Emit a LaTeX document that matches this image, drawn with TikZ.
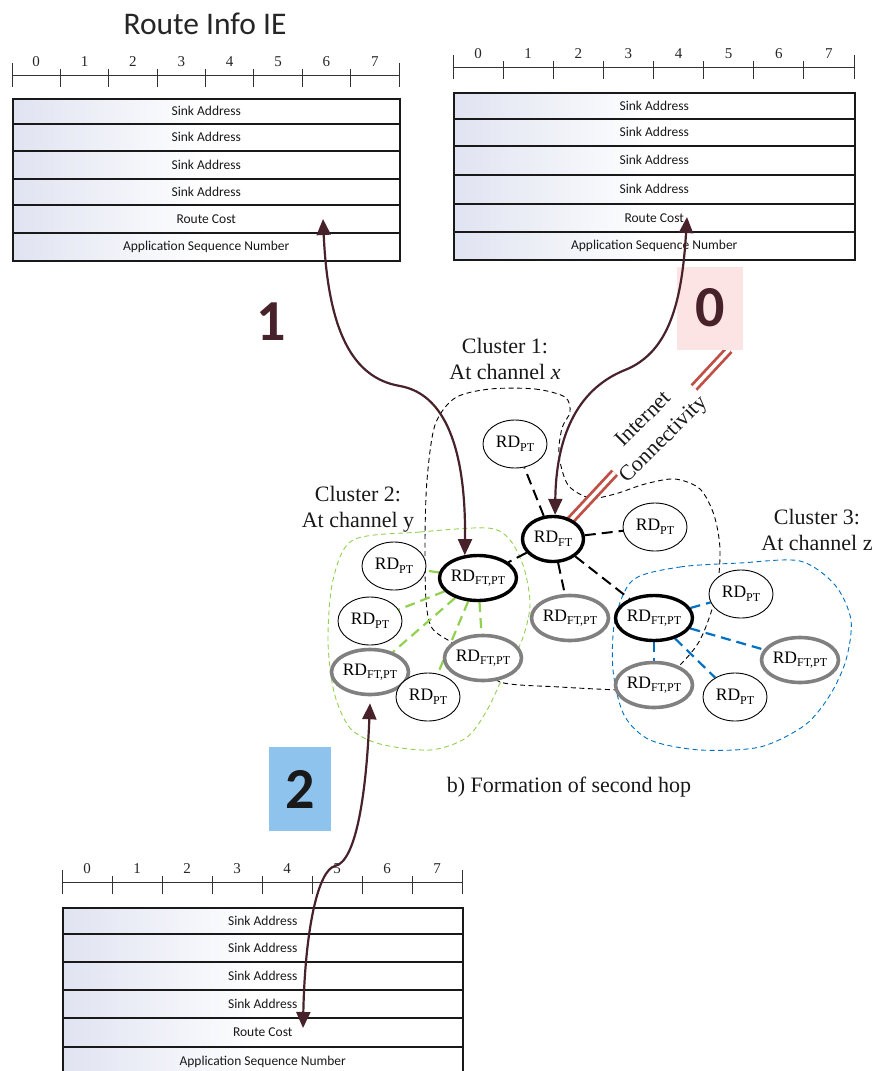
\documentclass[tikz,border=0pt]{standalone}
\usepackage{fontspec}
\setmainfont{Liberation Serif}
\newfontfamily\tablefont{Carlito}
\usetikzlibrary{arrows.meta,calc,shapes.geometric}

\definecolor{linkmaroon}{RGB}{72,34,42}
\definecolor{netred}{RGB}{192,80,70}
\definecolor{clgreen}{RGB}{146,208,80}
\definecolor{clblue}{RGB}{0,112,192}
\definecolor{ftgray}{RGB}{128,128,128}
\definecolor{rowtint}{RGB}{224,227,241}
\definecolor{pinkbox}{RGB}{252,228,228}
\definecolor{skybox}{RGB}{142,195,238}

\pgfdeclarelayer{back}
\pgfsetlayers{back,main}

% device label with a subscripted role
\newcommand{\rd}[1]{RD\raisebox{-0.45ex}{\fontsize{12}{12}\selectfont #1}}

\tikzset{
  fieldrow/.style={draw=black!90, line width=1.5pt, left color=rowtint, right color=white, middle color=white,
    inner sep=0pt, font=\tablefont\fontsize{13.5}{13.5}\selectfont, text=black!90},
  rulerline/.style={draw=black!80, line width=0.9pt},
  bitlabel/.style={font=\fontsize{15}{15}\selectfont, text=black!85, inner sep=0pt},
  ptnode/.style={ellipse, draw=black, line width=0.9pt, fill=white, minimum width=64pt, minimum height=48pt,
    inner sep=0pt, font=\fontsize{17.5}{17.5}\selectfont},
  headnode/.style={ptnode, line width=3.4pt, minimum width=61pt, minimum height=45pt},
  graynode/.style={ptnode, draw=ftgray, line width=3.6pt, minimum width=61pt, minimum height=45pt},
  blacklink/.style={draw=black, line width=2pt, dash pattern=on 11pt off 6pt},
  greenlink/.style={draw=clgreen, line width=2.2pt, dash pattern=on 10pt off 6pt},
  bluelink/.style={draw=clblue, line width=2.2pt, dash pattern=on 10pt off 6pt},
  clusterline/.style={line width=0.9pt, dash pattern=on 5pt off 3.5pt},
  linkarrow/.style={draw=linkmaroon, line width=2.2pt,
    {Triangle[length=16pt,width=14pt]}-{Triangle[length=16pt,width=14pt]}},
  netlink/.style={draw=netred, line width=2.8pt, double=white, double distance=3.6pt},
  numbox/.style={minimum width=66pt, minimum height=83pt, inner sep=0pt,
    font=\tablefont\bfseries\fontsize{58}{58}\selectfont},
  caption/.style={align=center, font=\fontsize{22}{26}\selectfont, text=black!90},
}

% bit ruler: #1 left x, #2 cell width, #3 line y, #4 name prefix
\newcommand{\bitruler}[4]{%
  \draw[rulerline] (#1,#3) -- ({#1+8*#2},#3);
  \foreach \k in {0,8} \draw[rulerline] ({#1+\k*#2},{#3-12}) -- ({#1+\k*#2},{#3+12});
  \foreach \k in {1,...,7} \draw[rulerline] ({#1+\k*#2},{#3-6}) -- ({#1+\k*#2},{#3+12});
  \foreach \k in {0,...,7} \node[bitlabel] (#4d\k) at ({#1+(\k+0.5)*#2},{#3-13.5}) {\k};
}

% stacked fields: #1 name prefix, #2 left x, #3 right x, #4 top/bottom/text list
\newcommand{\fieldstack}[4]{%
  \foreach \rtop/\rbot/\rtext [count=\ri] in {#4}{%
    \node[fieldrow, anchor=north west, minimum width=#3-#2, minimum height=\rbot-\rtop]
      (#1r\ri) at (#2,\rtop) {\rtext};
  }%
}

\begin{document}
\begin{tikzpicture}[x=1pt,y=-1pt]
\useasboundingbox (0,0) rectangle (875,1071);

% ---------- frame formats ----------
\node[font=\tablefont\fontsize{31.5}{31.5}\selectfont, text=black!85] (title) at (205,24) {Route Info IE};

\bitruler{12}{48.375}{75}{a}
\fieldstack{a}{12}{399}{98/123/Sink Address, 123/150/Sink Address, 150/178/Sink Address,
  178/204/Sink Address, 204/232/Route Cost, 232/260/Application Sequence Number}

\bitruler{453}{50.125}{67}{b}
\fieldstack{b}{453}{854}{92/118/Sink Address, 118/145/Sink Address, 145/174/Sink Address,
  174/203/Sink Address, 203/231/Route Cost, 231/259/Application Sequence Number}

\bitruler{62}{50}{882}{c}
\fieldstack{c}{62}{462}{907/933/Sink Address, 933/961/Sink Address, 961/989/Sink Address,
  989/1017/Sink Address, 1017/1046/Route Cost, 1046/1076/Application Sequence Number}

\coordinate (tipA) at (323,219);
\coordinate (tipB) at (687,217);
\coordinate (tipC) at (303,1028);

% ---------- step markers ----------
\node[numbox, fill=pinkbox, text=linkmaroon] (zero) at (710,308) {0};
\node[numbox, minimum width=0pt, minimum height=0pt, text=linkmaroon] (one) at (271,322) {1};
\node[numbox, minimum width=62pt, minimum height=84pt, fill=skybox, text=black!90] (two) at (300,789) {2};
\coordinate (netE) at ($(zero.south east)+(-14,0)$);

% ---------- devices ----------
\node[ptnode]   (p1) at (515,444) {\rd{PT}};
\node[headnode] (ft) at (553,539) {\rd{FT}};
\node[ptnode]   (p2) at (655,527) {\rd{PT}};
\node[headnode] (h2) at (478,578) {\rd{FT,PT}};
\node[graynode] (g1) at (570,618) {\rd{FT,PT}};
\node[headnode] (h3) at (654,618) {\rd{FT,PT}};
\node[graynode] (g2) at (483,658) {\rd{FT,PT}};
\node[graynode] (g3) at (654,685) {\rd{FT,PT}};
\node[ptnode]   (p3) at (741,594) {\rd{PT}};
\node[graynode] (g4) at (800,660) {\rd{FT,PT}};
\node[ptnode]   (p4) at (735,697) {\rd{PT}};
\node[ptnode]   (p5) at (394,566) {\rd{PT}};
\node[ptnode]   (p6) at (370,621) {\rd{PT}};
\node[graynode] (g5) at (370,672) {\rd{FT,PT}};
\node[ptnode]   (p7) at (428,697) {\rd{PT}};

% ---------- captions ----------
\node[caption] (cl1) at (505,359) {Cluster 1:\\At channel \textit{x}};
\node[caption] (cl2) at (358,509) {Cluster 2:\\At channel y};
\node[caption] (cl3) at (817,530) {Cluster 3:\\At channel z};
\node[caption] (hop) at (569,787) {b) Formation of second hop};
\node[caption, font=\fontsize{22}{28}\selectfont, rotate=45] (net) at ($(ft.center)!0.575!(netE)$) {Internet\\Connectivity};

\begin{pgfonlayer}{back}
  % cluster outlines
  \draw[clusterline, draw=black] plot[smooth cycle, tension=0.5] coordinates {
    (490,389) (535,389) (565,397) (570,412) (562,428) (559,455) (568,485) (590,498)
    (615,494) (645,484) (675,479) (700,489) (714,515) (720,550) (716,595) (700,640)
    (677,668) (650,690) (620,690) (560,687) (500,682) (483,660) (453,643) (432,628)
    (426,600) (425,540) (427,480) (435,425) (455,398)};
  \draw[clusterline, draw=clgreen] plot[smooth cycle, tension=0.5] coordinates {
    (353,540) (420,532) (488,528) (510,540) (524,568) (530,605) (522,640) (503,677)
    (486,712) (466,738) (430,750) (380,744) (350,728) (334,692) (328,640) (333,580)};
  \draw[clusterline, draw=clblue] plot[smooth cycle, tension=0.5] coordinates {
    (633,580) (680,567) (740,563) (800,561) (835,585) (851,620) (846,660) (830,695)
    (805,725) (760,747) (700,750) (650,740) (624,715) (613,670) (615,620)};

  % cluster links
  \foreach \n in {p1,p2,g1,h3,h2} \draw[blacklink] (ft) -- (\n);
  \foreach \n in {p5,p6,g5,p7,g2} \draw[greenlink] (h2) -- (\n);
  \foreach \n in {p3,g4,p4,g3} \draw[bluelink] (h3) -- (\n);

  % internet uplink
  \draw[netlink] (ft.center) -- ($(ft.center)!0.35!(netE)$);
  \draw[netlink] ($(ft.center)!0.80!(netE)$) -- (netE);
\end{pgfonlayer}

% ---------- field references ----------
\draw[linkarrow] (tipA) .. controls (328,330) and (352,378) .. (400,386)
  .. controls (450,395) and (466,460) .. (h2.120);
\draw[linkarrow] (tipB) .. controls (682,300) and (670,352) .. (625,370)
  .. controls (575,390) and (556,440) .. (ft.85);
\draw[linkarrow] ([yshift=-7pt]g5.south) .. controls (366,800) and (355,862) .. (335,866)
  .. controls (318,870) and (305,930) .. (tipC);

\end{tikzpicture}
\end{document}
